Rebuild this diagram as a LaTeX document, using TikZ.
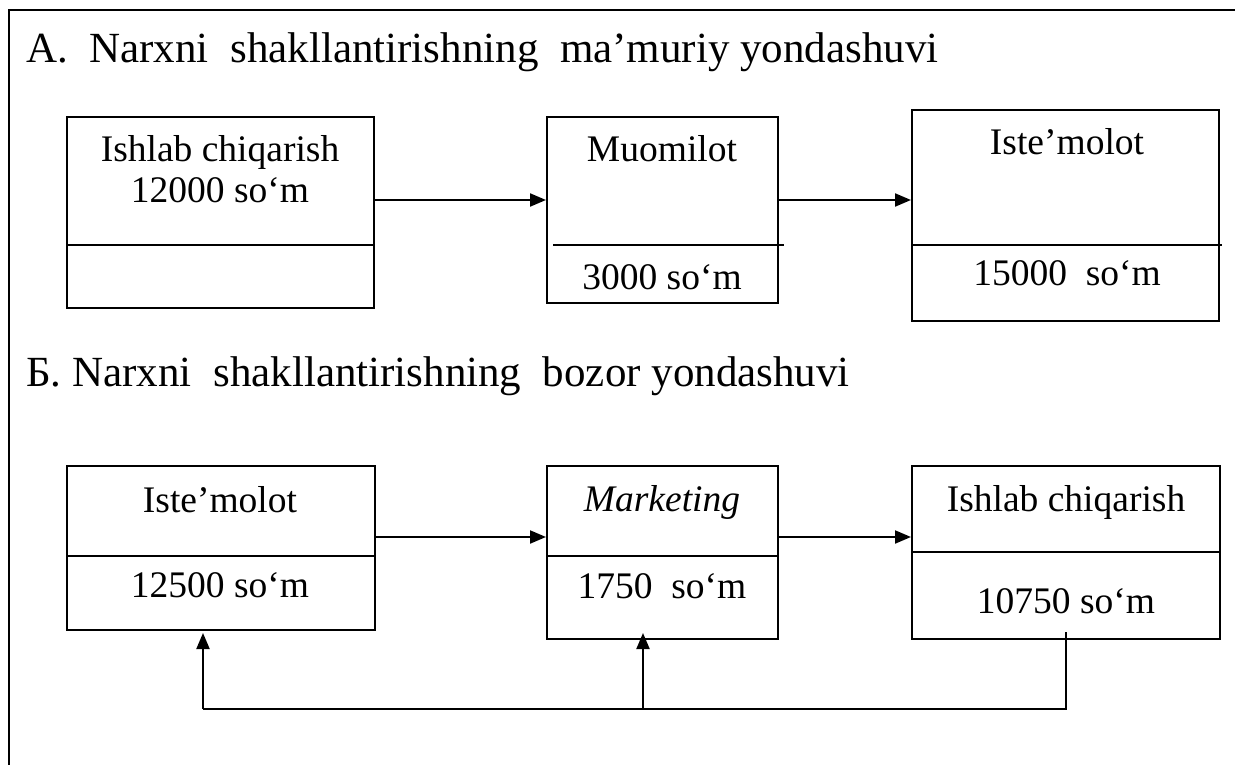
\documentclass[tikz,border=0pt]{standalone}
\usepackage{fontspec}
\setmainfont{Liberation Serif}
\usetikzlibrary{arrows.meta}
\begin{document}
\begin{tikzpicture}[x=1pt,y=-1pt,
  ln/.style={line width=2pt},
  box/.style={draw,line width=2pt,inner sep=0pt},
  lbl/.style={anchor=base,inner sep=0pt,font=\fontsize{37.5}{45}\selectfont},
  ttl/.style={anchor=base west,inner sep=0pt,font=\fontsize{43}{50}\selectfont},
  arr/.style={line width=2pt,-{Triangle[length=16pt,width=13pt]}}]
\useasboundingbox (0,0) rectangle (1235,765);

% outer frame (top and left sides only)
\draw[ln] (1235,10) -- (9,10) -- (9,765);

% ---- A: administrative approach ----
\node[ttl] (ta) at (26,63) {A.\ \ Narxni\ \ shakllantirishning\ \ ma’muriy yondashuvi};

\node[box,minimum width=307pt,minimum height=191pt] (a1) at (220.5,212.5) {};
\node[box,minimum width=231pt,minimum height=186pt] (a2) at (662.5,210) {};
\node[box,minimum width=307pt,minimum height=211pt] (a3) at (1065.5,215.5) {};

\draw[ln] (a1.west |- 0,245) -- (a1.east |- 0,245);
\draw[ln] (553,245) -- (784,245);
\draw[ln] (a3.west |- 0,245) -- (1222,245);

\node[lbl] (a1t) at (220,162) {Ishlab chiqarish};
\node[lbl] (a1p) at (220,203) {12000 so‘m};
\node[lbl] (a2t) at (662,162) {Muomilot};
\node[lbl] (a2p) at (662,289) {3000 so‘m};
\node[lbl] (a3t) at (1067,155) {Iste’molot};
\node[lbl] (a3p) at (1067,285) {15000\ \ so‘m};

\draw[arr] (a1.east |- 0,200) -- (a2.west |- 0,200);
\draw[arr] (a2.east |- 0,200) -- (a3.west |- 0,200);

% ---- B: market approach ----
\node[ttl] (tb) at (26,386) {Б. Narxni\ \ shakllantirishning\ \ bozor yondashuvi};

\node[box,minimum width=308pt,minimum height=164pt] (b1) at (221,548) {};
\node[box,minimum width=231pt,minimum height=173pt] (b2) at (662.5,552.5) {};
\node[box,minimum width=308pt,minimum height=173pt] (b3) at (1066,552.5) {};

\draw[ln] (b1.west |- 0,556) -- (b1.east |- 0,556);
\draw[ln] (b2.west |- 0,556) -- (b2.east |- 0,556);
\draw[ln] (b3.west |- 0,552) -- (b3.east |- 0,552);

\node[lbl] (b1t) at (220,512) {Iste’molot};
\node[lbl] (b1p) at (220,597) {12500 so‘m};
\node[lbl] (b2t) at (662,511) {\itshape Marketing};
\node[lbl] (b2p) at (662,598) {1750\ \ so‘m};
\node[lbl] (b3t) at (1066,511) {Ishlab chiqarish};
\node[lbl] (b3p) at (1066,613) {10750 so‘m};

\draw[arr] (b1.east |- 0,537) -- (b2.west |- 0,537);
\draw[arr] (b2.east |- 0,537) -- (b3.west |- 0,537);

% feedback line from production back to consumption and marketing
\coordinate (fb) at (1066,632);
\coordinate (fr) at (1066,709);
\coordinate (fm) at (643,709);
\coordinate (fl) at (203,709);
\draw[ln] (fb) -- (fr) -- (fl);
\draw[arr] (fl) -- (fl |- 0,633);
\draw[arr] (fm) -- (fm |- 0,633);
\end{tikzpicture}
\end{document}
